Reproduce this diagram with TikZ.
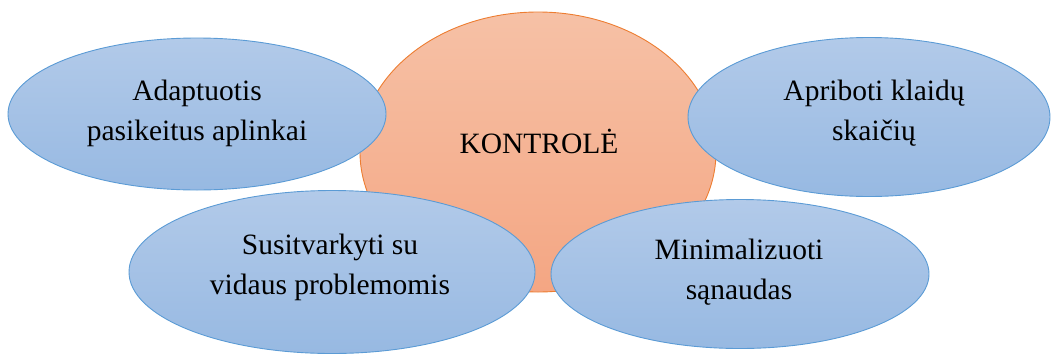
\documentclass[tikz,border=0pt]{standalone}
\usepackage{fontspec}
\setmainfont{Liberation Serif}
\usetikzlibrary{shapes.geometric}
\definecolor{bluetop}{HTML}{B2CAE9}
\definecolor{bluebot}{HTML}{97B9E2}
\definecolor{blueedge}{HTML}{5B9BD5}
\definecolor{ortop}{HTML}{F6C1A6}
\definecolor{orbot}{HTML}{F4A683}
\definecolor{oredge}{HTML}{ED7D31}
\tikzset{
  blob/.style={ellipse, inner sep=0pt, line width=0.9pt, draw=blueedge, top color=bluetop, bottom color=bluebot},
  core/.style={ellipse, inner sep=0pt, line width=0.9pt, draw=oredge, top color=ortop, bottom color=orbot},
  lbl/.style={align=center, inner sep=0pt, font=\fontsize{29.5}{40}\selectfont}
}
\begin{document}
\begin{tikzpicture}[x=1pt,y=-1pt]
\useasboundingbox (0,0) rectangle (1052,354);
\node[core, minimum width=356pt, minimum height=280pt] (k) at (538,152) {};
\node[lbl] (kt) at (539,141) {KONTROLĖ};
\node[blob, minimum width=378pt, minimum height=152pt] (a) at (197,114) {};
\node[lbl] (at) at (197,113) {Adaptuotis\\pasikeitus aplinkai};
\node[blob, minimum width=362pt, minimum height=159pt] (b) at (869,117) {};
\node[lbl] (bt) at (874,113) {Apriboti klaidų\\skaičių};
\node[blob, minimum width=406pt, minimum height=163pt] (c) at (332,272) {};
\node[lbl] (ct) at (330,267) {Susitvarkyti su\\vidaus problemomis};
\node[blob, minimum width=378pt, minimum height=149pt] (d) at (740,274) {};
\node[lbl] (dt) at (739,272) {Minimalizuoti\\sąnaudas};
\end{tikzpicture}
\end{document}
